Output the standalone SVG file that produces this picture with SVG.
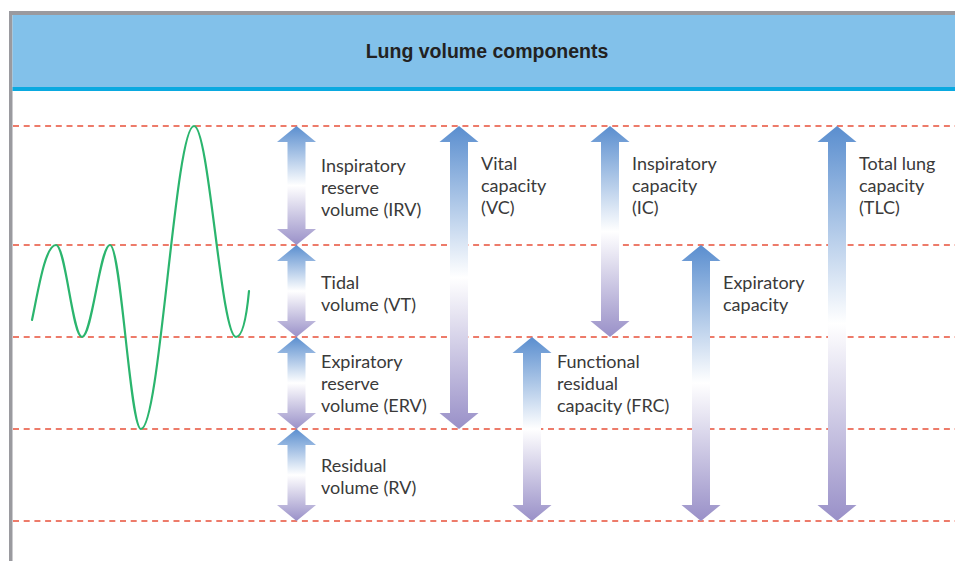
<svg xmlns="http://www.w3.org/2000/svg" width="955" height="561" viewBox="0 0 955 561">
  <style>
    .lbl { font-family: "Lato", "Liberation Sans", sans-serif; font-size: 18px; fill: #3a3a3a; }
    .title { font-family: "Liberation Sans", sans-serif; font-size: 19.5px; font-weight: bold; fill: #222; }
    .dash { stroke: #e8503a; stroke-width: 1.3; stroke-dasharray: 6 4.7; fill: none; }
    .arr { fill: url(#grad); }
    .wave { fill: none; stroke: #2bb56e; stroke-width: 2.2; stroke-linecap: round; }
  </style>
  <defs>
    <linearGradient id="grad" x1="0" y1="0" x2="0" y2="1">
      <stop offset="0" stop-color="#5a8ecf"/>
      <stop offset="0.5" stop-color="#ffffff"/>
      <stop offset="1" stop-color="#9990c8"/>
    </linearGradient>
  </defs>
  <rect x="0" y="0" width="955" height="561" fill="#ffffff"/>
  <!-- frame -->
  <rect x="9" y="11" width="946" height="4" fill="#9a9a9f"/>
  <rect x="9" y="11" width="3.5" height="550" fill="#9a9a9f"/>
  <rect x="12.5" y="15" width="942.5" height="72" fill="#82c1ea"/>
  <rect x="12.5" y="87" width="942.5" height="4" fill="#0aa9e0"/>
  <text class="title" x="487" y="58" text-anchor="middle">Lung volume components</text>

  <g id="levels">
    <line class="dash" x1="13" y1="126" x2="955" y2="126"/>
    <line class="dash" x1="13" y1="245" x2="955" y2="245"/>
    <line class="dash" x1="13" y1="337" x2="955" y2="337"/>
    <line class="dash" x1="13" y1="429" x2="955" y2="429"/>
    <line class="dash" x1="13" y1="521" x2="955" y2="521"/>
  </g>

  <g id="wave">
    <path class="wave" d="M32,320 C38,292 45,245 56,245 C65.5,245 72.5,337 82,337 C92,337 100,245 110,245 C121,245 130,429 141,429 C160,429 175,126 194,126 C209,126 221,337 236,337 C243,337 247,312 249,291"/>
  </g>

  <g id="connectors">
    <polygon id="arrow-irv" class="arr" points="296.5,126 316,142 305.5,142 305.5,229 316,229 296.5,245 277,229 287.5,229 287.5,142 277,142"/>
    <polygon id="arrow-vt" class="arr" points="296.5,245 316,261 305.5,261 305.5,321 316,321 296.5,337 277,321 287.5,321 287.5,261 277,261"/>
    <polygon id="arrow-erv" class="arr" points="296.5,337 316,353 305.5,353 305.5,413 316,413 296.5,429 277,413 287.5,413 287.5,353 277,353"/>
    <polygon id="arrow-rv" class="arr" points="296.5,429 316,445 305.5,445 305.5,505 316,505 296.5,521 277,505 287.5,505 287.5,445 277,445"/>
    <polygon id="arrow-vc" class="arr" points="459,126 478.5,142 468,142 468,413 478.5,413 459,429 439.5,413 450,413 450,142 439.5,142"/>
    <polygon id="arrow-frc" class="arr" points="532,337 551.5,353 541,353 541,505 551.5,505 532,521 512.5,505 523,505 523,353 512.5,353"/>
    <polygon id="arrow-ic" class="arr" points="610,126 629.5,142 619,142 619,321 629.5,321 610,337 590.5,321 601,321 601,142 590.5,142"/>
    <polygon id="arrow-ec" class="arr" points="701,245 720.5,261 710,261 710,505 720.5,505 701,521 681.5,505 692,505 692,261 681.5,261"/>
    <polygon id="arrow-tlc" class="arr" points="837,126 856.5,142 846,142 846,505 856.5,505 837,521 817.5,505 828,505 828,142 817.5,142"/>
  </g>

  <g id="irv"><text class="lbl" x="321" y="172">Inspiratory</text><text class="lbl" x="321" y="194">reserve</text><text class="lbl" x="321" y="216">volume (IRV)</text></g>
  <g id="vt"><text class="lbl" x="321" y="289">Tidal</text><text class="lbl" x="321" y="311">volume (VT)</text></g>
  <g id="erv"><text class="lbl" x="321" y="368">Expiratory</text><text class="lbl" x="321" y="390">reserve</text><text class="lbl" x="321" y="412">volume (ERV)</text></g>
  <g id="rv"><text class="lbl" x="321" y="472">Residual</text><text class="lbl" x="321" y="494">volume (RV)</text></g>
  <g id="vc"><text class="lbl" x="481" y="170">Vital</text><text class="lbl" x="481" y="192">capacity</text><text class="lbl" x="481" y="214">(VC)</text></g>
  <g id="ic"><text class="lbl" x="632" y="170">Inspiratory</text><text class="lbl" x="632" y="192">capacity</text><text class="lbl" x="632" y="214">(IC)</text></g>
  <g id="frc"><text class="lbl" x="557" y="368">Functional</text><text class="lbl" x="557" y="390">residual</text><text class="lbl" x="557" y="412">capacity (FRC)</text></g>
  <g id="ec"><text class="lbl" x="723" y="289">Expiratory</text><text class="lbl" x="723" y="311">capacity</text></g>
  <g id="tlc"><text class="lbl" x="859" y="170">Total lung</text><text class="lbl" x="859" y="192">capacity</text><text class="lbl" x="859" y="214">(TLC)</text></g>
</svg>
